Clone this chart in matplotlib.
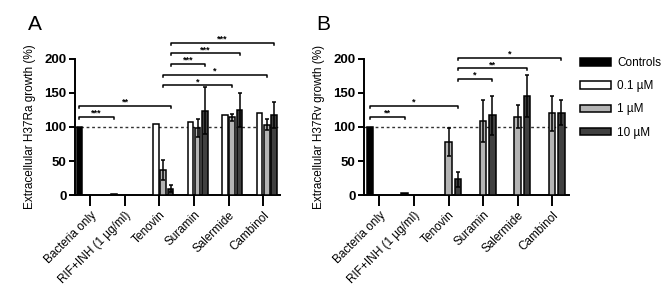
import matplotlib
matplotlib.use("Agg")
import matplotlib.pyplot as plt
import numpy as np
from matplotlib.patches import Patch

plt.rcParams['font.family'] = ['Liberation Sans', 'DejaVu Sans']

nan = np.nan
categories = ["Bacteria only", "RIF+INH (1 µg/ml)", "Tenovin", "Suramin", "Salermide", "Cambinol"]
series = ["Controls", "0.1 µM", "1 µM", "10 µM"]
colors = ["#000000", "#ffffff", "#b4b4b4", "#404040"]

# panel A (H37Ra)
ra_ctrl = [100, 1, nan, nan, nan, nan]
ra_01 = [nan, nan, 104, 107, 118, 120]
ra_1 = [nan, nan, 37, 98, 114, 103]
ra_10 = [nan, nan, 9.5, 124, 125, 117]
ra_err_1 = [nan, nan, 15, 13, 5, 8]
ra_err_10 = [nan, nan, 5, 34, 25, 19]

# panel B (H37Rv)
rv_ctrl = [100, 3, nan, nan, nan, nan]
rv_1 = [nan, nan, 78, 109, 115, 120]
rv_10 = [nan, nan, 23, 117, 145, 121]
rv_err_1 = [nan, nan, 20, 31, 17, 26]
rv_err_10 = [nan, nan, 11, 29, 31, 18]

# significance: (cat1, series1, cat2, series2, y, label)
ra_sig = [(0, 0, 1, 0, 115, "***"), (0, 0, 2, 3, 131, "**"),
          (2, 2, 4, 2, 161, "*"), (2, 2, 5, 2, 176, "*"),
          (2, 3, 3, 3, 193, "***"), (2, 3, 4, 3, 208, "***"), (2, 3, 5, 3, 224, "***")]
rv_sig = [(0, 0, 1, 0, 115, "**"), (0, 0, 2, 3, 131, "*"),
          (2, 3, 3, 3, 171, "*"), (2, 3, 4, 3, 186, "**"), (2, 3, 5, 3, 202, "*")]

fig = plt.figure(figsize=(6.69, 3.02), dpi=100)
axA = fig.add_axes([0.112, 0.354, 0.307, 0.451])
axB = fig.add_axes([0.544, 0.354, 0.307, 0.451])

x = np.arange(len(categories))


def draw(ax, data, offs, width, sig, ylabel):
    for (vals, err, s), off in zip(data, offs):
        ax.bar(x + off, vals, width, color=colors[s], edgecolor="black", linewidth=1.1, zorder=3)
        if err is not None:
            ax.errorbar(x + off, vals, yerr=err, fmt="none", ecolor="black",
                        elinewidth=1.1, capsize=1.5, capthick=1.1, zorder=4)
    ax.axhline(100, color="#333333", linestyle=(0, (2, 2)), linewidth=1.0, zorder=2)
    pos = {s: off for (v, e, s), off in zip(data, offs)}
    for c1, s1, c2, s2, y, lab in sig:
        x1 = c1 + pos[s1]
        x2 = c2 + pos[s2]
        ax.plot([x1, x1, x2, x2], [y - 3, y, y, y - 3], color="black", lw=1.1, clip_on=False)
        ax.text((x1 + x2) / 2, y - 1, lab, ha="center", va="bottom", fontsize=6.5, fontweight="bold")
    ax.set_ylim(0, 200)
    ax.set_xlim(-0.45, 5.5)
    ax.set_yticks([0, 50, 100, 150, 200])
    ax.set_yticklabels(["0", "50", "100", "150", "200"], fontsize=9.5, fontweight="bold")
    ax.set_xticks(x)
    ax.set_xticklabels(categories, rotation=45, ha="right", rotation_mode="anchor", fontsize=8.5)
    ax.tick_params(axis="y", direction="out", length=4, width=1.4, pad=2)
    ax.tick_params(axis="x", direction="out", length=8, width=1.4, pad=2)
    ax.spines["top"].set_visible(False)
    ax.spines["right"].set_visible(False)
    ax.spines["left"].set_linewidth(1.4)
    ax.spines["bottom"].set_linewidth(1.4)
    ax.set_ylabel(ylabel, fontsize=8.5, labelpad=6)


wa = 0.215
draw(axA, [(ra_ctrl, None, 0), (ra_01, None, 1), (ra_1, ra_err_1, 2), (ra_10, ra_err_10, 3)],
     [-1.5 * wa, -0.5 * wa, 0.5 * wa, 1.5 * wa], 0.16, ra_sig,
     "Extracellular H37Ra growth (%)")
wb = 0.27
draw(axB, [(rv_ctrl, None, 0), (rv_1, rv_err_1, 2), (rv_10, rv_err_10, 3)],
     [-wb, 0, wb], 0.19, rv_sig,
     "Extracellular H37Rv growth (%)")

fig.text(0.042, 0.90, "A", fontsize=15)
fig.text(0.472, 0.90, "B", fontsize=15)

handles = [Patch(facecolor=c, edgecolor="black", linewidth=1.1) for c in colors]
fig.legend(handles, series, loc="upper left", bbox_to_anchor=(580 / 669, 1 - 57 / 302), frameon=False,
           borderpad=0, borderaxespad=0, fontsize=8.5, handlelength=2.6, handleheight=0.6,
           labelspacing=0.95, handletextpad=0.55)

fig.savefig("out.png", dpi=100)
